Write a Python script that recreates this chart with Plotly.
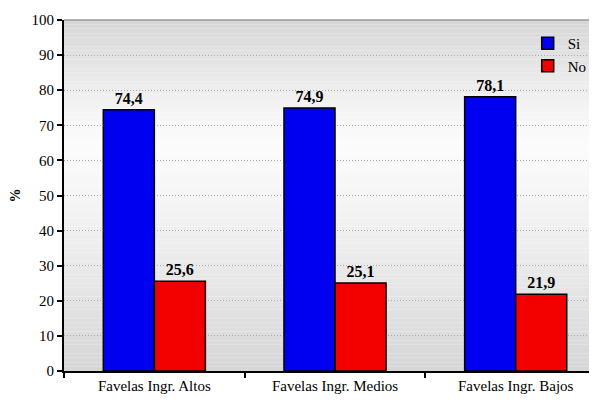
import plotly.graph_objects as go

# Data
categories = ["Favelas Ingr. Altos", "Favelas Ingr. Medios", "Favelas Ingr. Bajos"]
si_values = [74.4, 74.9, 78.1]
no_values = [25.6, 25.1, 21.9]
si_labels = ["74,4", "74,9", "78,1"]
no_labels = ["25,6", "25,1", "21,9"]

font_family = "Liberation Serif, Times New Roman, serif"

fig = go.Figure()
fig.add_trace(go.Bar(
    x=categories, y=si_values, name="Si",
    text=si_labels, textposition="outside",
    textfont=dict(family=font_family, size=16, color="black", weight="bold"),
    marker=dict(color="#0000f0", line=dict(color="black", width=1.5)),
    cliponaxis=False,
))
fig.add_trace(go.Bar(
    x=categories, y=no_values, name="No",
    text=no_labels, textposition="outside",
    textfont=dict(family=font_family, size=16, color="black", weight="bold"),
    marker=dict(color="#f20000", line=dict(color="black", width=1.5)),
    cliponaxis=False,
))

# plot area background: vertical gray-white-gray gradient as thin bands
shapes = []
nb = 80
for i in range(nb):
    t = (i + 0.5) / nb  # 0 bottom .. 1 top
    d = (0.65 - t) / 0.65 if t < 0.65 else (t - 0.65) / 0.35
    g = int(252 - 38 * min(d, 1) ** 1.2)
    shapes.append(dict(type="rect", xref="paper", yref="paper",
                       x0=0, x1=1, y0=i / nb, y1=(i + 1) / nb,
                       fillcolor=f"rgb({g},{g},{g})", line=dict(width=0),
                       layer="below"))
# top border line
shapes.append(dict(type="line", xref="paper", yref="paper", x0=0, x1=1, y0=1, y1=1,
                   line=dict(color="#999999", width=1.5)))

# page body has an 8px margin, so the figure is 8px smaller each way
fig.update_layout(
    width=589, height=395,
    margin=dict(l=56, r=0, t=12, b=32),
    paper_bgcolor="white",
    plot_bgcolor="rgba(0,0,0,0)",
    barmode="group",
    bargap=0.435,
    bargroupgap=0,
    font=dict(family=font_family, size=15, color="black"),
    showlegend=True,
    legend=dict(x=0.87, y=0.98, xanchor="left", yanchor="top",
                bgcolor="rgba(0,0,0,0)", font=dict(size=15),
                tracegroupgap=0, itemwidth=30),
    shapes=shapes,
    xaxis=dict(
        range=[-0.5, 2.45], automargin=False,
        showline=True, linecolor="black", linewidth=2,
        ticks="outside", tickson="boundaries", ticklen=5, tickcolor="black",
        tickwidth=1.5, showgrid=False,
        tickfont=dict(size=15),
    ),
    yaxis=dict(
        range=[0, 100], dtick=10, automargin=False,
        showline=True, linecolor="black", linewidth=2,
        ticks="outside", ticklen=5, tickcolor="black", tickwidth=1.5,
        showgrid=True, gridcolor="#a8a8a8", griddash="1px,2px", gridwidth=1,
        zeroline=False,
        tickfont=dict(size=15),
        title=dict(text="<b>%</b>", font=dict(size=14), standoff=11),
    ),
)

fig.write_html("out.html")
